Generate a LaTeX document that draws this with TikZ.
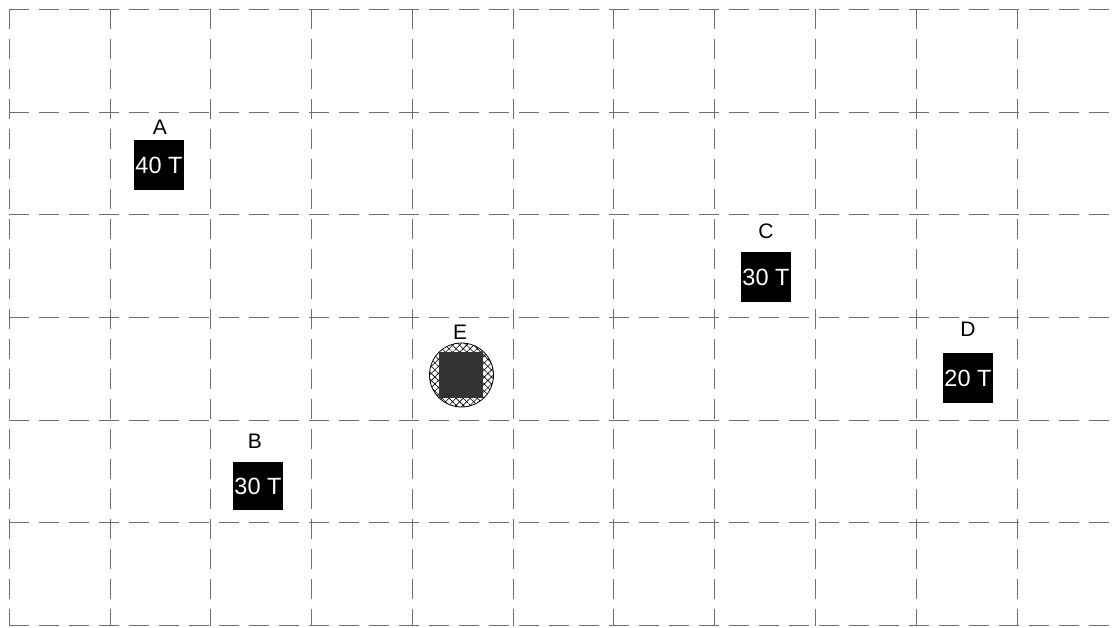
\documentclass[tikz,border=0pt]{standalone}
\usepackage{fontspec}
\setmainfont{Liberation Sans}
\usetikzlibrary{patterns.meta}
\definecolor{gridc}{RGB}{110,110,110}
\definecolor{depot}{RGB}{51,51,51}
\begin{document}
\begin{tikzpicture}[x=1pt,y=-1pt,
  gridline/.style={draw=gridc, line width=1pt, dash pattern=on 20pt off 10pt},
  truck/.style={fill=black, text=white, minimum width=50pt, minimum height=50pt, inner sep=0pt,
    font=\fontsize{23.5}{24}\selectfont},
  lab/.style={inner sep=0pt, font=\fontsize{21}{22}\selectfont}]
\useasboundingbox (0,0) rectangle (1112,628);
% grid
\foreach \i in {0,...,10}{
  \pgfmathsetmacro{\xx}{9.3+100.78*\i}
  \draw[gridline] (\xx,9.3) -- (\xx,625.7);
}
\foreach \j in {0,...,6}{
  \pgfmathsetmacro{\yy}{9.3+102.73*\j}
  \draw[gridline] (9.3,\yy) -- (1112,\yy);
}
% trucks
\node[truck] (A) at (159,165) {40 T};
\node[lab] (lA) at (160,127.5) {A};
\node[truck, minimum height=48pt] (B) at (258,486) {30 T};
\node[lab] (lB) at (255,441) {B};
\node[truck] (C) at (766,277) {30 T};
\node[lab] (lC) at (766,231) {C};
\node[truck] (D) at (968,378) {20 T};
\node[lab] (lD) at (968,329.5) {D};
% depot E
\node[circle, draw=black, line width=0.8pt, minimum size=64pt, inner sep=0pt,
  fill=white, pattern={Hatch[angle=45, distance=5pt, line width=0.6pt]}] (E) at (461.5,375) {};
\node[fill=depot, minimum width=44pt, minimum height=46pt, inner sep=0pt] (Es) at (461,375) {};
\node[lab] (lE) at (460,332.5) {E};
\end{tikzpicture}
\end{document}
